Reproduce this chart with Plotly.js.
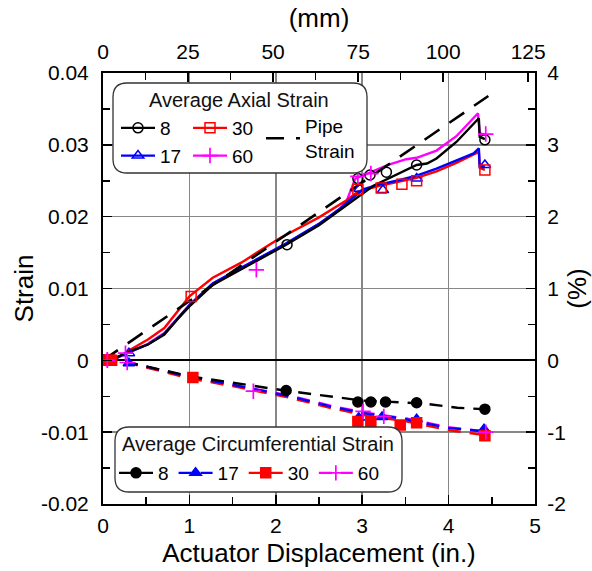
<!DOCTYPE html>
<html><head><meta charset="utf-8">
<script src="https://cdn.plot.ly/plotly-3.0.1.min.js"></script>
<style>html,body{margin:0;padding:0;background:#fff;} #chart{width:592px;height:571px;}</style>
</head><body><div id="chart"></div>
<script>
// ---------- data ----------
// Axial strain, continuous curves (x = actuator displacement, in.)
const ax8_x  = [0, 0.1, 0.17, 0.32, 0.52, 0.71, 0.86, 1.0, 1.27, 1.6, 2.12, 2.5, 2.74, 3.13, 3.63, 3.75, 3.86, 4.09, 4.35, 4.36, 4.42];
const ax8_y  = [0, 0.0002, 0.0005, 0.0013, 0.0022, 0.0036, 0.0057, 0.0075, 0.0105, 0.0127, 0.0161, 0.0188, 0.0209, 0.0243, 0.0272, 0.0274, 0.0281, 0.0304, 0.0337, 0.0311, 0.0308];
const ax17_x = [0, 0.1, 0.17, 0.32, 0.52, 0.71, 0.86, 1.0, 1.27, 1.6, 2.12, 2.5, 2.74, 3.01, 3.2, 3.4, 3.63, 3.86, 4.09, 4.29, 4.35, 4.36, 4.42];
const ax17_y = [0, 0.0002, 0.0004, 0.0012, 0.0022, 0.0037, 0.0058, 0.0077, 0.0107, 0.0129, 0.0163, 0.0190, 0.0211, 0.0238, 0.0245, 0.0250, 0.0257, 0.0267, 0.0278, 0.0288, 0.0295, 0.0271, 0.0270];
const ax30_x = [0, 0.1, 0.17, 0.32, 0.52, 0.71, 0.86, 1.0, 1.27, 1.6, 2.045, 2.5, 2.82, 2.95, 3.2, 3.5, 3.63, 3.86, 4.09, 4.35, 4.36, 4.42];
const ax30_y = [0, 0.0002, 0.0004, 0.0015, 0.0029, 0.0045, 0.0068, 0.0089, 0.0115, 0.0136, 0.0170, 0.0199, 0.0223, 0.0235, 0.0243, 0.0250, 0.0254, 0.0263, 0.0275, 0.0290, 0.0268, 0.0265];
const ax60_x = [0, 0.1, 0.17, 0.32, 0.52, 0.71, 0.86, 1.0, 1.27, 1.6, 2.12, 2.5, 2.74, 2.82, 2.92, 3.0, 3.13, 3.3, 3.51, 3.63, 3.86, 4.09, 4.34, 4.36, 4.43];
const ax60_y = [0, 0.0002, 0.0004, 0.0012, 0.0023, 0.0038, 0.0058, 0.0077, 0.0107, 0.0129, 0.0162, 0.0190, 0.0210, 0.0222, 0.0253, 0.0257, 0.0264, 0.0272, 0.0280, 0.0282, 0.0292, 0.0312, 0.0344, 0.0316, 0.0314];
// Axial strain, discrete gauge readings (markers)
const ax8m_x  = [0, 0.05, 0.1, 2.13, 2.95, 3.09, 3.28, 3.63, 4.42];
const ax8m_y  = [0, 0, 0.0001, 0.0161, 0.0253, 0.0258, 0.0262, 0.0272, 0.0307];
const ax17m_x = [0, 0.3, 2.97, 3.24, 3.63, 4.42];
const ax17m_y = [0, 0.0010, 0.0239, 0.0237, 0.0253, 0.0272];
const ax30m_x = [0, 0.08, 1.02, 2.95, 3.22, 3.46, 3.63, 4.42];
const ax30m_y = [0, 0, 0.0089, 0.0238, 0.0240, 0.0245, 0.0250, 0.0265];
const ax60m_x = [0.05, 0.26, 1.775, 2.95, 3.1, 4.43];
const ax60m_y = [0.0001, 0.0010, 0.0126, 0.0256, 0.0260, 0.0315];
// Pipe strain
const pipe_x = [0, 4.46];
const pipe_y = [0, 0.0368];
// Circumferential strain, dashed curves
const c8_x  = [0, 0.3, 1.0, 2.1, 3.0, 3.7, 4.1, 4.42];
const c8_y  = [0, -0.0003, -0.0022, -0.0042, -0.0056, -0.0060, -0.0066, -0.0068];
const cc_x  = [0, 0.3, 1.0, 1.5, 2.16, 2.66, 3.05, 3.51, 3.99, 4.42];
const c17_y = [0, -0.0003, -0.0023, -0.0034, -0.0050, -0.0065, -0.0074, -0.0082, -0.0094, -0.0099];
const c30_y = [0, -0.0004, -0.0025, -0.0036, -0.0052, -0.0067, -0.0077, -0.0085, -0.0097, -0.0104];
const c60_y = [0, -0.0003, -0.0023, -0.0034, -0.0049, -0.0064, -0.0073, -0.0081, -0.0093, -0.0099];
// Circumferential strain, discrete readings (markers)
const c8m_x  = [0, 0.05, 0.1, 2.12, 2.95, 3.10, 3.27, 3.63, 4.42];
const c8m_y  = [0, 0, 0, -0.0042, -0.0058, -0.0058, -0.0058, -0.0059, -0.0068];
const c17m_x = [0, 0.3, 2.96, 3.23, 3.63, 4.41];
const c17m_y = [0, -0.0004, -0.0080, -0.0079, -0.0082, -0.0096];
const c30m_x = [0, 0.1, 1.04, 2.95, 3.10, 3.44, 3.63, 4.42];
const c30m_y = [0, 0, -0.0024, -0.0085, -0.0085, -0.0090, -0.0087, -0.0105];
const c60m_x = [0.05, 0.28, 1.74, 3.01, 3.25, 4.43];
const c60m_y = [0, -0.0003, -0.0043, -0.0071, -0.0078, -0.0100];
// Names, secondary-axis ranges and tick labels
const gaugeNames = ['8', '17', '30', '60'];
const yTickVals = [-0.02, -0.01, 0, 0.01, 0.02, 0.03, 0.04];
const yTickText = ['-0.02', '-0.01', '0', '0.01', '0.02', '0.03', '0.04'];
const y2Range = [-2, 4];
const y2TickVals = [-2, -1, 0, 1, 2, 3, 4];
const y2TickText = ['-2', '-1', '0', '1', '2', '3', '4'];
const mmRange = [0, 127];
const mmTickVals = [0, 25, 50, 75, 100, 125];

// ---------- styling ----------
const FONT = 'Liberation Sans, Arial, Helvetica, sans-serif';
const BLACK = '#000000', BLUE = '#0000ff', RED = '#ff0000', MAG = '#ff00ff';
const M = {l: 103, r: 57, t: 73, b: 67};
const PW = 592 - M.l - M.r, PH = 571 - M.t - M.b;

// split points by nulls so a lines+markers trace shows only markers on the plot
function isolate(xs, ys) {
  const X = [], Y = [];
  xs.forEach((x, i) => { X.push(x, null); Y.push(ys[i], null); });
  return {x: X, y: Y};
}
function lineTrace(x, y, color, dash) {
  return {x, y, type: 'scatter', mode: 'lines', showlegend: false, hoverinfo: 'skip',
          line: {color, width: 2.4, dash: dash || 'solid'}};
}
function markTrace(xs, ys, name, color, symbol, legend, dash) {
  const p = isolate(xs, ys);
  const isCross = symbol.indexOf('cross') === 0;
  return {x: p.x, y: p.y, type: 'scatter', mode: 'lines+markers', name, legend,
          connectgaps: false,
          line: {color, width: 2.2, dash: dash || 'solid'},
          marker: {symbol, size: isCross ? 11 : 10, color, line: {color, width: isCross ? 1.7 : 1.5}}};
}

const CD = '13px,9px';
const traces = [
  lineTrace(cc_x, c60_y, MAG, CD),
  lineTrace(cc_x, c30_y, RED, CD),
  lineTrace(cc_x, c17_y, BLUE, CD),
  lineTrace(c8_x, c8_y, BLACK, CD),
  lineTrace(ax60_x, ax60_y, MAG),
  lineTrace(ax30_x, ax30_y, RED),
  lineTrace(ax17_x, ax17_y, BLUE),
  lineTrace(ax8_x, ax8_y, BLACK),
  {x: pipe_x, y: pipe_y, type: 'scatter', mode: 'lines', name: 'Pipe<br>Strain', legend: 'legend3',
   line: {color: BLACK, width: 2.6, dash: '18px,12px'}},
  markTrace(ax8m_x, ax8m_y, gaugeNames[0], BLACK, 'circle-open', 'legend'),
  markTrace(ax17m_x, ax17m_y, gaugeNames[1], BLUE, 'triangle-up-open', 'legend'),
  markTrace(ax30m_x, ax30m_y, gaugeNames[2], RED, 'square-open', 'legend2'),
  markTrace(ax60m_x, ax60m_y, gaugeNames[3], MAG, 'cross-thin-open', 'legend2'),
  markTrace(c8m_x, c8m_y, gaugeNames[0], BLACK, 'circle', 'legend4', CD),
  markTrace(c17m_x, c17m_y, gaugeNames[1], BLUE, 'triangle-up', 'legend4', CD),
  markTrace(c30m_x, c30m_y, gaugeNames[2], RED, 'square', 'legend4', CD),
  markTrace(c60m_x, c60m_y, gaugeNames[3], MAG, 'cross-thin-open', 'legend4', CD),
  // secondary scales (mm on top, % on right): empty traces so those axes are drawn
  {x: [], y: [], xaxis: 'x2', yaxis: 'y2', type: 'scatter', mode: 'lines', showlegend: false, hoverinfo: 'skip'}
];

// px -> paper helpers for decorations
const px = p => (p - M.l) / PW;
const py = p => (M.t + PH - p) / PH;
function roundRect(x0, y0, x1, y1, r) {
  const pts = [
    ['M', x0 + r, y0], ['L', x1 - r, y0], ['Q', x1, y0, x1, y0 + r], ['L', x1, y1 - r],
    ['Q', x1, y1, x1 - r, y1], ['L', x0 + r, y1], ['Q', x0, y1, x0, y1 - r], ['L', x0, y0 + r],
    ['Q', x0, y0, x0 + r, y0]
  ];
  return pts.map(s => {
    const c = s[0], v = s.slice(1), out = [];
    for (let i = 0; i < v.length; i += 2) out.push(px(v[i]).toFixed(5) + ',' + py(v[i + 1]).toFixed(5));
    return c + out.join(' ');
  }).join(' ') + ' Z';
}

const tickFont = {family: FONT, size: 21, color: '#000'};
const titleFont = {family: FONT, size: 26, color: '#000'};
const legFont = {family: FONT, size: 19, color: '#000'};
const baseLeg = {font: legFont, bgcolor: 'rgba(0,0,0,0)', borderwidth: 0, itemwidth: 34,
                 xanchor: 'left', yanchor: 'top', itemclick: false, itemdoubleclick: false};
const GRID = '#878787';
const tk = {ticks: 'inside', ticklen: 9, tickwidth: 1.5, tickcolor: '#000',
            showline: true, linecolor: '#000', linewidth: 2, tickfont: tickFont};

const layout = {
  width: 592, height: 571, margin: M, paper_bgcolor: '#fff', plot_bgcolor: '#fff',
  font: {family: FONT, color: '#000'},
  xaxis: Object.assign({}, tk, {range: [0, 5], dtick: 1, tick0: 0,
          showgrid: true, gridcolor: GRID, gridwidth: 1.6, zeroline: false, ticklabelstandoff: 2,
          minor: {dtick: 0.5, ticks: 'inside', ticklen: 7, tickwidth: 1.5, tickcolor: '#000', showgrid: false},
          title: {text: 'Actuator Displacement (in.)', font: titleFont, standoff: 8}}),
  xaxis2: Object.assign({}, tk, {overlaying: 'x', side: 'top', anchor: 'y2', range: mmRange, tickvals: mmTickVals,
           showgrid: false, zeroline: false, ticklabelstandoff: 4,
           minor: {dtick: 12.5, ticks: 'inside', ticklen: 7, tickwidth: 1.5, tickcolor: '#000', showgrid: false},
           title: {text: '(mm)', font: titleFont, standoff: 4}}),
  yaxis: Object.assign({}, tk, {range: [-0.02, 0.04], tickvals: yTickVals, ticktext: yTickText,
          showgrid: true, gridcolor: GRID, gridwidth: 1.6,
          zeroline: true, zerolinecolor: '#000', zerolinewidth: 1.8, ticklabelstandoff: 8,
          minor: {dtick: 0.005, ticks: 'inside', ticklen: 7, tickwidth: 1.5, tickcolor: '#000', showgrid: false},
          title: {text: 'Strain', font: titleFont, standoff: 0}}),
  yaxis2: Object.assign({}, tk, {overlaying: 'y', side: 'right', anchor: 'x2', range: y2Range, tickvals: y2TickVals, ticktext: y2TickText,
           showgrid: false, zeroline: false, ticklabelstandoff: 6,
           minor: {dtick: 0.5, ticks: 'inside', ticklen: 7, tickwidth: 1.5, tickcolor: '#000', showgrid: false},
           title: {text: '(%)', font: titleFont, standoff: 8}}),
  legend:  Object.assign({}, baseLeg, {x: px(116), y: py(109), orientation: 'v'}),
  legend2: Object.assign({}, baseLeg, {x: px(188), y: py(109), orientation: 'v'}),
  legend3: Object.assign({}, baseLeg, {x: px(261), y: py(107), orientation: 'v'}),
  legend4: Object.assign({}, baseLeg, {x: px(114), y: py(454), orientation: 'h'}),
  shapes: [
    {type: 'path', xref: 'paper', yref: 'paper', layer: 'above', path: roundRect(113, 83, 367, 173, 14),
     fillcolor: '#fff', line: {color: '#333', width: 1.3}},
    {type: 'path', xref: 'paper', yref: 'paper', layer: 'above', path: roundRect(115, 427, 402, 492, 14),
     fillcolor: '#fff', line: {color: '#333', width: 1.3}}
  ],
  annotations: [
    {xref: 'paper', yref: 'paper', x: px(239), y: py(100), text: 'Average Axial Strain', showarrow: false,
     font: {family: FONT, size: 20, color: '#111'}, xanchor: 'center', yanchor: 'middle'},
    {xref: 'paper', yref: 'paper', x: px(258), y: py(444), text: 'Average Circumferential Strain', showarrow: false,
     font: {family: FONT, size: 20, color: '#111'}, xanchor: 'center', yanchor: 'middle'}
  ],
  showlegend: true
};

Plotly.newPlot('chart', traces, layout, {staticPlot: true, displayModeBar: false});
</script></body></html>
